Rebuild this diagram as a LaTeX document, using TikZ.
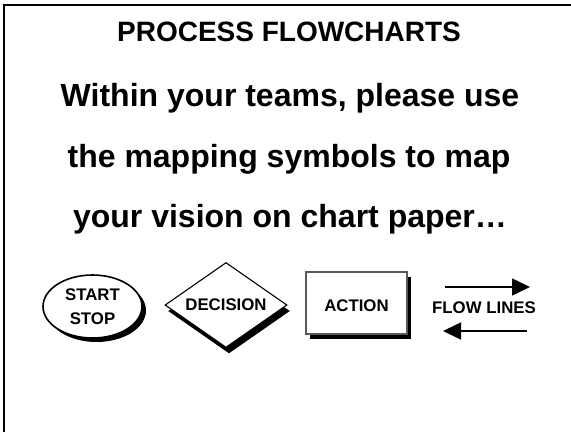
\documentclass[tikz,border=0pt]{standalone}
\usepackage{fontspec}
\setmainfont{Liberation Sans}
\usetikzlibrary{shapes.geometric,shadows,arrows.meta}
\begin{document}
\begin{tikzpicture}[x=1pt,y=-1pt,
  titletext/.style={font=\fontsize{28}{34}\selectfont\bfseries, anchor=base, inner sep=0pt},
  bodytext/.style={font=\fontsize{32}{38}\selectfont\bfseries, anchor=base, inner sep=0pt},
  symbox/.style={draw=black, line width=1.3pt, fill=white, inner sep=0pt,
    font=\fontsize{16.8}{24}\selectfont\bfseries},
  symlabel/.style={font=\fontsize{16.8}{24}\selectfont\bfseries, inner sep=0pt},
  flowline/.style={line width=1.6pt, -{Triangle[length=18pt,width=17pt]}}]
\useasboundingbox (0,0) rectangle (571,432);
\fill[white] (0,0) rectangle (571,432);

% slide frame (left and top edges)
\draw[line width=2.2pt] (4,432) -- (4,5) -- (571,5);

% heading and instructions
\node[titletext] (title) at (289,41) {PROCESS FLOWCHARTS};
\node[bodytext] (line1) at (290,106) {Within your teams, please use};
\node[bodytext] (line2) at (289,167) {the mapping symbols to map};
\node[bodytext] (line3) at (290,227) {your vision on chart paper…};

% terminal symbol
\node[symbox, line width=1.6pt, ellipse, minimum width=99pt, minimum height=63pt, align=center,
  general shadow={fill=black, shadow xshift=4pt, shadow yshift=-4pt}]
  (term) at (92.5,306.5) {START\\STOP};

% decision symbol
\node[symbox, line width=1.1pt, diamond, minimum width=122pt, minimum height=85pt, aspect=1.435,
  general shadow={fill=black, shadow xshift=3pt, shadow yshift=-6pt}]
  (dec) at (226,305) {DECISION};

% action symbol
\node[symbox, draw=black!65, line width=1.1pt, rectangle, minimum width=101pt,
  minimum height=62pt, text height=18pt,
  general shadow={fill=black, shadow xshift=4pt, shadow yshift=-5pt}]
  (act) at (356.5,303) {ACTION};

% flow lines
\node[symlabel] (flowlbl) at (484,307.5) {FLOW LINES};
\coordinate (fa1) at (445,287);
\coordinate (fa2) at (530,287);
\coordinate (fb1) at (527,331);
\coordinate (fb2) at (443,331);
\draw[flowline] (fa1) -- (fa2);
\draw[flowline] (fb1) -- (fb2);
\end{tikzpicture}
\end{document}
